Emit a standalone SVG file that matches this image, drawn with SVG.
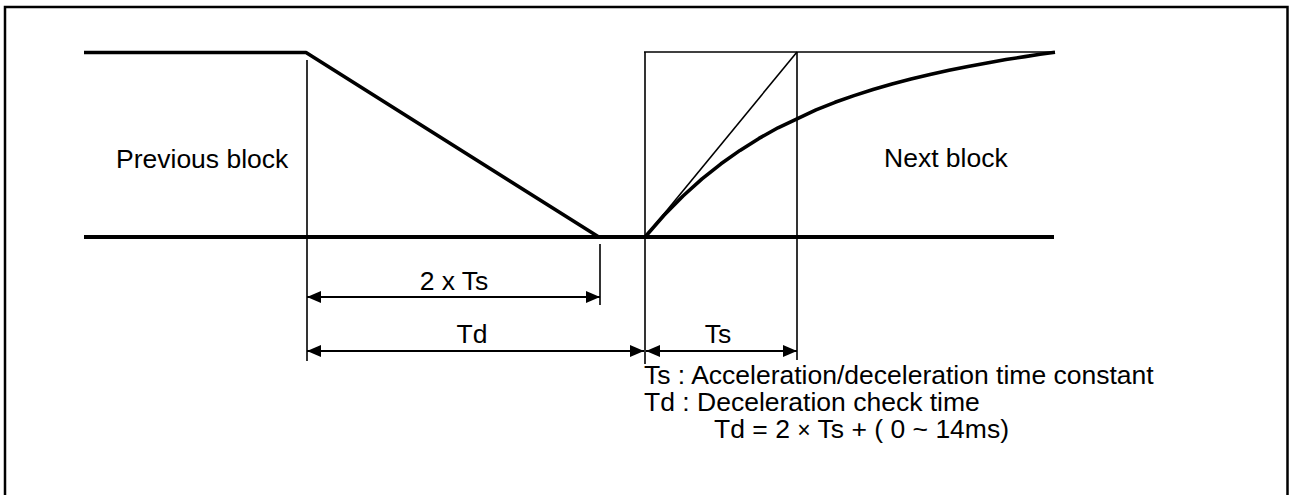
<svg xmlns="http://www.w3.org/2000/svg" width="1289" height="495" viewBox="0 0 1289 495">
<style>
.thin{stroke:#000;stroke-width:1.6;fill:none}
.thick{stroke:#000;stroke-width:3.6;fill:none;stroke-linejoin:round}
.dim{stroke:#000;stroke-width:1.8;fill:none;marker-start:url(#ah);marker-end:url(#ah)}
text{font-family:"Liberation Sans",Arial,sans-serif;font-size:26.5px;fill:#000}
</style>
<defs>
<marker id="ah" viewBox="0 0 14 12" refX="14" refY="6" markerWidth="14" markerHeight="12" markerUnits="userSpaceOnUse" orient="auto-start-reverse">
<path d="M0,0 L14,6 L0,12 Z" fill="#000"/>
</marker>
</defs>
<rect width="1289" height="495" fill="#fff"/>
<path id="frame" d="M5,495 V7 H1287.5 V495" fill="none" stroke="#000" stroke-width="2.5"/>
<g id="profile">
<path class="thick" d="M84,52.5 H306 L598,236.5"/>
<path d="M84,237 H1054" stroke="#000" stroke-width="4" fill="none"/>
<path class="thick" d="M645,237 L664,215.2 L683,196 L702,178.9 L721,163.8 L740,150.4 L759,138.4 L778,127.8 L797,118.8 L816,109.9 L835,102.3 L854,95.6 L873,89.5 L892,83.9 L911,79 L930,74.4 L949,70.2 L968,66.4 L987,62.9 L1006,59.6 L1025,56.6 L1040,54.3 L1055,52.2"/>
</g>
<g id="guides">
<line class="thin" x1="307" y1="60" x2="307" y2="361"/>
<line class="thin" x1="600" y1="244" x2="600" y2="305"/>
<line class="thin" x1="645" y1="52" x2="645" y2="364"/>
<line class="thin" x1="797" y1="52" x2="797" y2="360"/>
<line class="thin" x1="644" y1="52" x2="1055" y2="52"/>
<line class="thin" x1="645" y1="237" x2="797" y2="52"/>
</g>
<g id="connectors">
<line class="dim" x1="307" y1="297" x2="600" y2="297"/>
<line class="dim" x1="307" y1="351" x2="644" y2="351"/>
<line class="dim" x1="646" y1="351" x2="797" y2="351"/>
</g>
<g id="labels">
<text x="116" y="168">Previous block</text>
<text x="884" y="167">Next block</text>
<text x="454" y="290" text-anchor="middle">2 x Ts</text>
<text x="472" y="343" text-anchor="middle">Td</text>
<text x="718" y="343" text-anchor="middle">Ts</text>
<text x="644" y="384">Ts : Acceleration/deceleration time constant</text>
<text x="644" y="411">Td : Deceleration check time</text>
<text x="714" y="438">Td = 2 <tspan font-size="23">×</tspan> Ts + ( 0 ~ 14ms)</text>
</g>
</svg>
